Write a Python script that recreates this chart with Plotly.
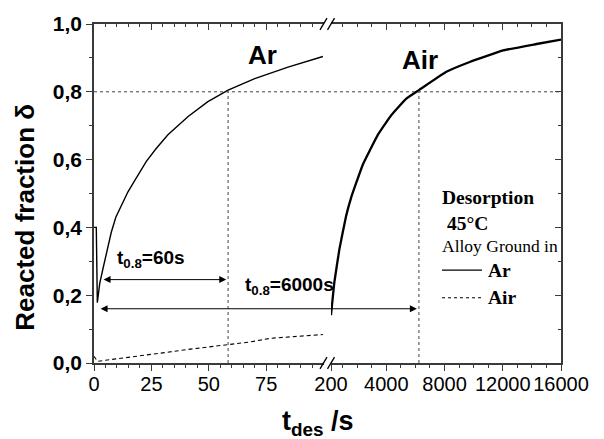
import plotly.graph_objects as go

# ---------------- data ----------------
# Ar-ground alloy, desorption, short time scale (left axis segment, s)
ar_t = [0, 1.0, 1.45, 2.5, 3.9, 5.5, 7.5, 9.5, 11.9, 14.8, 17, 22.8, 27, 32.2, 41, 49.6, 58.4, 70, 84.5, 99.7]
ar_delta = [0.40, 0.40, 0.178, 0.235, 0.278, 0.33, 0.385, 0.43, 0.465, 0.505, 0.53, 0.595, 0.632, 0.673,
            0.727, 0.771, 0.805, 0.839, 0.873, 0.904]

# Air-ground alloy, early part (left axis segment, s)
air_early_t = [0, 1.5, 5, 10, 19, 30, 41, 50, 58, 68, 77, 88, 99.7]
air_early_delta = [0.02, 0.005, 0.008, 0.012, 0.02, 0.03, 0.04, 0.047, 0.054, 0.062, 0.073, 0.078, 0.084]

# Air-ground alloy, long time scale (right axis segment, s)
air_t = [200, 434, 778, 1240, 1584, 1929, 2383, 3416, 4339, 5372, 6240, 8127, 9731, 12025, 14321, 16000]
air_delta = [0.141, 0.239, 0.336, 0.434, 0.488, 0.531, 0.585, 0.673, 0.731, 0.78, 0.805, 0.859, 0.888,
             0.922, 0.941, 0.954]

# axis ticks
left_ticks = [0, 25, 50, 75]
left_minor = [5, 10, 15, 20, 30, 35, 40, 45, 55, 60, 65, 70, 80, 85, 90, 95]
right_ticks = [200, 4000, 8000, 12000, 16000]
right_ticktext = ["200", "4000", "8000", "12000", "16000"]
right_minor = [1000, 2000, 3000, 5000, 6000, 7000, 9000, 10000, 11000, 13000, 14000, 15000]
y_ticks = [0.0, 0.2, 0.4, 0.6, 0.8, 1.0]
y_ticktext = ["0,0", "0,2", "0,4", "0,6", "0,8", "1,0"]
y_minor = [0.1, 0.3, 0.5, 0.7, 0.9]

# characteristic times
t08_ar = 58.4        # left segment
t08_air = 6240       # right segment
level = 0.8
arrow1 = dict(t0=3.5, t1=57.6, d=0.246)
arrow2 = dict(t0=2.2, t1=6100, d=0.160)

LEFT_RANGE = [0, 100]
RIGHT_RANGE = [200, 16000]

# ---------------- layout geometry ----------------
W, H = 604, 439
PL, PR, PT, PB = 94, 561, 20, 363
D1 = [0, (323.6 - PL) / (PR - PL)]
D2 = [(331 - PL) / (PR - PL), 1]


def px(x):
    return (x - PL) / (PR - PL)


def py(y):
    return (PB - y) / (PB - PT)


def left_to_paper(v):
    return D1[0] + (v - LEFT_RANGE[0]) / (LEFT_RANGE[1] - LEFT_RANGE[0]) * (D1[1] - D1[0])


def right_to_paper(v):
    return D2[0] + (v - RIGHT_RANGE[0]) / (RIGHT_RANGE[1] - RIGHT_RANGE[0]) * (D2[1] - D2[0])


AX_COL = "#3a3a3a"
SANS = "Liberation Sans, Arial, sans-serif"
SERIF = "Liberation Serif, Times New Roman, serif"

fig = go.Figure()
fig.add_trace(go.Scatter(x=ar_t, y=ar_delta, mode="lines", xaxis="x", yaxis="y",
                         line=dict(color="black", width=1.4),
                         showlegend=False, hoverinfo="skip"))
fig.add_trace(go.Scatter(x=air_early_t, y=air_early_delta, mode="lines", xaxis="x", yaxis="y",
                         line=dict(color="black", width=1.1, dash="4px,3px"),
                         showlegend=False, hoverinfo="skip"))
fig.add_trace(go.Scatter(x=air_t, y=air_delta, mode="lines", xaxis="x2", yaxis="y",
                         line=dict(color="black", width=2.3, shape="spline", smoothing=0.3),
                         showlegend=False, hoverinfo="skip"))
# helper (invisible) traces so that the mirrored top/right axes are drawn
for xa, ya, xs in [("x3", "y", ar_t[:1]), ("x4", "y", air_t[:1]), ("x2", "y2", air_t[:1])]:
    fig.add_trace(go.Scatter(x=xs, y=[0], xaxis=xa, yaxis=ya, mode="lines", opacity=0,
                             showlegend=False, hoverinfo="skip"))

common_x = dict(showline=True, linecolor=AX_COL, linewidth=1.5, showgrid=False, zeroline=False,
                tickcolor=AX_COL, tickwidth=1.3, ticklen=6, tickangle=0,
                tickfont=dict(family=SANS, size=20, color="black"))

fig.update_layout(
    width=W, height=H,
    margin=dict(l=PL, r=W - PR, t=PT, b=H - PB),
    paper_bgcolor="white", plot_bgcolor="white",
    xaxis=dict(domain=D1, range=LEFT_RANGE, anchor="y", ticks="outside", ticklabelstandoff=-4,
               tickmode="array", tickvals=left_ticks,
               minor=dict(tickvals=left_minor, ticks="outside", ticklen=3, tickcolor=AX_COL, tickwidth=1.2),
               **common_x),
    xaxis2=dict(domain=D2, range=RIGHT_RANGE, anchor="y", ticks="outside", ticklabelstandoff=-4,
                tickmode="array", tickvals=right_ticks, ticktext=right_ticktext,
                ticklabeloverflow="allow",
                minor=dict(tickvals=right_minor, ticks="outside", ticklen=3, tickcolor=AX_COL, tickwidth=1.2),
                **common_x),
    xaxis3=dict(overlaying="x", matches="x", side="top", anchor="y", ticks="inside",
                tickmode="array", tickvals=left_ticks, showticklabels=False,
                minor=dict(tickvals=left_minor, ticks="inside", ticklen=3, tickcolor=AX_COL, tickwidth=1.2),
                **common_x),
    xaxis4=dict(overlaying="x2", matches="x2", side="top", anchor="y", ticks="inside",
                tickmode="array", tickvals=right_ticks, showticklabels=False,
                minor=dict(tickvals=right_minor, ticks="inside", ticklen=3, tickcolor=AX_COL, tickwidth=1.2),
                **common_x),
    yaxis=dict(range=[0, 1], anchor="x", side="left", ticks="outside", ticklen=6,
               tickmode="array", tickvals=y_ticks, ticktext=y_ticktext,
               minor=dict(tickvals=y_minor, ticks="outside", ticklen=3, tickcolor=AX_COL, tickwidth=1.2),
               showline=True, linecolor=AX_COL, linewidth=1.5, showgrid=False, zeroline=False,
               tickcolor=AX_COL, tickwidth=1.3,
               tickfont=dict(family=SANS, size=21, color="black", weight="bold")),
    yaxis2=dict(range=[0, 1], matches="y", overlaying="y", anchor="x2", side="right", ticks="inside", ticklen=6,
                tickmode="array", tickvals=y_ticks, showticklabels=False,
                minor=dict(tickvals=y_minor, ticks="inside", ticklen=3, tickcolor=AX_COL, tickwidth=1.2),
                showline=True, linecolor=AX_COL, linewidth=1.5, showgrid=False, zeroline=False,
                tickcolor=AX_COL, tickwidth=1.3),
)

dot = dict(color="#444", width=1, dash="dot")
shapes = [
    dict(type="line", xref="paper", yref="y", x0=0, x1=1, y0=level, y1=level, line=dot),
    dict(type="line", xref="x", yref="y", x0=t08_ar, x1=t08_ar, y0=0, y1=level, line=dot),
    dict(type="line", xref="x2", yref="y", x0=t08_air, x1=t08_air, y0=0, y1=level, line=dot),
]
# axis-break marks (bottom and top)
for yc in (PB, PT):
    for xs in (320, 327.5):
        shapes.append(dict(type="line", xref="paper", yref="paper",
                           x0=px(xs), y0=py(yc + 6), x1=px(xs + 7), y1=py(yc - 6),
                           line=dict(color="black", width=1.3)))
# legend sample lines
shapes.append(dict(type="line", xref="paper", yref="paper", x0=px(442), x1=px(482), y0=py(269), y1=py(269),
                   line=dict(color="black", width=1.3)))
shapes.append(dict(type="line", xref="paper", yref="paper", x0=px(442), x1=px(481), y0=py(297), y1=py(297),
                   line=dict(color="black", width=1, dash="3px,3px")))
fig.update_layout(shapes=shapes)

ann = []
# arrows
ann.append(dict(xref="x", yref="y", axref="x", ayref="y", x=arrow1["t1"], y=arrow1["d"],
                ax=arrow1["t0"], ay=arrow1["d"], text="", showarrow=True, arrowside="end+start",
                arrowhead=2, arrowsize=1.4, arrowwidth=1, arrowcolor="black", standoff=0, startstandoff=0))
ann.append(dict(xref="paper", yref="y", axref="pixel", ayref="y",
                x=right_to_paper(arrow2["t1"]), y=arrow2["d"],
                ax=-(right_to_paper(arrow2["t1"]) - left_to_paper(arrow2["t0"])) * (PR - PL), ay=arrow2["d"],
                text="", showarrow=True, arrowside="end+start",
                arrowhead=2, arrowsize=1.4, arrowwidth=1, arrowcolor="black", standoff=0, startstandoff=0))

def txt(text, x, y, size, family=SANS, xanchor="left", yanchor="middle", bold=True, angle=0):
    return dict(xref="paper", yref="paper", x=x, y=y, text=text, showarrow=False,
                xanchor=xanchor, yanchor=yanchor, textangle=angle,
                font=dict(family=family, size=size, color="black", weight="bold" if bold else "normal"))

ann += [
    txt("Ar", px(262), py(51), 26, xanchor="center"),
    txt("Air", px(420), py(56), 26, xanchor="center"),
    txt("t<sub>0.8</sub>=60s", px(115), py(258), 19),
    txt("t<sub>0.8</sub>=6000s", px(243), py(285), 19),
    txt("Desorption", px(440), py(196), 19.5, family=SERIF),
    txt(" 45°C", px(440), py(222), 19.5, family=SERIF),
    txt("Alloy Ground in", px(440), py(245), 17.5, family=SERIF, bold=False),
    txt("Ar", px(486), py(269), 19.5, family=SERIF),
    txt("Air", px(486), py(297), 19.5, family=SERIF),
    txt("Reacted fraction δ", px(25), py(216), 26, xanchor="center", angle=-90),
    txt("t<sub>des</sub> /s", px(318), py(424), 27, xanchor="center"),
]
fig.update_layout(annotations=ann)

fig.write_html("out.html")
